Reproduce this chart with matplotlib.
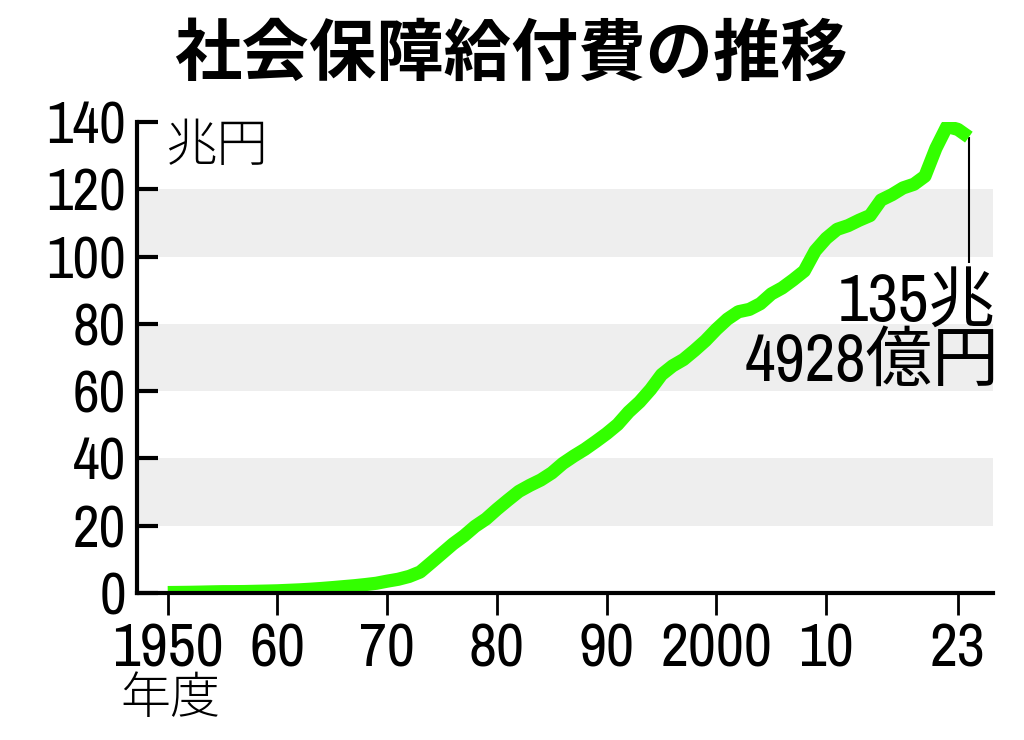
import matplotlib
matplotlib.use("Agg")
import matplotlib.pyplot as plt
from matplotlib import font_manager

# 社会保障給付費 (兆円), fiscal years 1950-2023
years = list(range(1950, 2024))
values = [
    0.13, 0.16, 0.20, 0.26, 0.33, 0.39, 0.40, 0.43, 0.50, 0.57,
    0.65, 0.79, 0.93, 1.12, 1.34, 1.60, 1.88, 2.16, 2.50, 2.89,
    3.52, 4.08, 4.93, 6.24, 9.0, 11.8, 14.6, 17.0, 19.8, 22.0,
    24.9, 27.6, 30.2, 32.0, 33.6, 35.7, 38.5, 40.7, 42.7, 45.0,
    47.4, 50.1, 53.8, 56.8, 60.5, 64.9, 67.5, 69.4, 72.1, 75.0,
    78.4, 81.4, 83.6, 84.3, 86.0, 88.9, 90.7, 93.1, 95.7, 101.7,
    105.4, 108.1, 109.2, 110.8, 112.2, 116.8, 118.4, 120.4, 121.5, 123.9,
    132.2, 138.7, 137.8, 135.5,
]

xtick_pos = [1950, 1960, 1970, 1980, 1990, 2000, 2010, 2022]
xtick_labels = ["1950", "60", "70", "80", "90", "2000", "10", "23"]
ytick_pos = [0, 20, 40, 60, 80, 100, 120, 140]
bands = [(20, 40), (60, 80), (100, 120)]

TITLE = "社会保障給付費の推移"
UNIT = "兆円"
XUNIT = "年度"
LAST_1 = "135兆"
LAST_2 = "4928億円"

JP = "Noto Sans CJK JP"

# look for a narrow face for the digits
NUM, STRETCH = "Liberation Sans", "normal"
cands = []
for f in font_manager.fontManager.ttflist:
    nm = f.name
    st = str(f.stretch)
    if f.weight not in (400, "normal", "regular"):
        continue
    if "Narrow" in nm or "Condensed" in nm:
        cands.append((0, nm, "normal"))
    elif st in ("condensed", "semi-condensed", "extra-condensed") and f.style == "normal":
        cands.append((1, nm, st))
if cands:
    cands.sort()
    _, NUM, STRETCH = cands[0]

FAM = [NUM, JP, "DejaVu Sans"]
plt.rcParams["font.family"] = FAM
plt.rcParams["font.stretch"] = STRETCH

fig = plt.figure(figsize=(10.24, 7.40), dpi=100)
ax = fig.add_axes([137 / 1024, 1 - 593 / 740, (993 - 137) / 1024, (593 - 122) / 740])

for lo, hi in bands:
    ax.axhspan(lo, hi, color="#eeeeee", lw=0, zorder=0)

ax.plot(years, values, color="#33ff00", lw=9.5, solid_capstyle="butt",
        solid_joinstyle="round", zorder=3)

ax.set_xlim(1947.2, 2025.2)
ax.set_ylim(0, 140)

for s in ["top", "right"]:
    ax.spines[s].set_visible(False)
for s in ["left", "bottom"]:
    ax.spines[s].set_linewidth(3)
    ax.spines[s].set_zorder(4)

ax.set_xticks(xtick_pos)
ax.set_xticklabels(xtick_labels)
ax.set_yticks(ytick_pos)
ax.tick_params(axis="x", direction="out", length=16, width=2, pad=5,
               labelsize=44, colors="black")
ax.tick_params(axis="y", direction="in", length=15, width=3, pad=8,
               labelsize=42, colors="black")

fig.text(0.499, 0.926, TITLE, ha="center", va="center", fontsize=48.5,
         fontweight="bold", family=[JP])
ax.text(1949.8, 132.6, UNIT, ha="left", va="center", fontsize=37,
        fontweight="light", family=[JP])
fig.text(120 / 1024, 1 - 699 / 740, XUNIT, ha="left", va="center",
         fontsize=36, fontweight="light", family=[JP])

ax.vlines(years[-1], 98, values[-1], color="black", lw=1.5, zorder=2)
ax.text(2025.4, 86.5, LAST_1, ha="right", va="center", fontsize=48)
ax.text(2025.8, 68.4, LAST_2, ha="right", va="center", fontsize=48)

fig.savefig("out.png", dpi=100)
